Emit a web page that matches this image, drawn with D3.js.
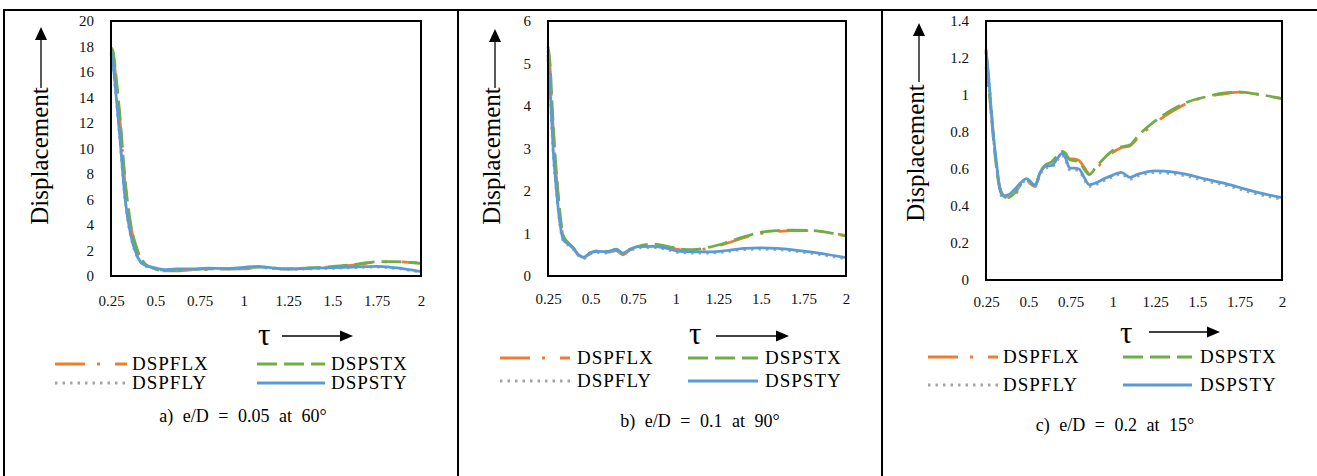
<!DOCTYPE html>
<html>
<head>
<meta charset="utf-8">
<script src="https://cdn.jsdelivr.net/npm/d3@7"></script>
<style>
  html, body { margin: 0; padding: 0; background: #fff; }
  svg { display: block; }
  svg text { font-family: "Liberation Serif", serif !important; }
</style>
</head>
<body>
<svg id="fig" width="1317" height="476" font-family="Liberation Serif"></svg>
<script>
// ---- data: displacement vs. non-dimensional time tau ----
const seriesNames = ["DSPFLX", "DSPSTX", "DSPFLY", "DSPSTY"];
const xTicks = [0.25, 0.5, 0.75, 1, 1.25, 1.5, 1.75, 2];

// a) e/D = 0.05 at 60°
const captionA = "a) e/D = 0.05 at 60°";
const yTicksA = [0, 2, 4, 6, 8, 10, 12, 14, 16, 18, 20];
const tauA = [0.25, 0.26, 0.28, 0.30, 0.33, 0.36, 0.40, 0.44, 0.48, 0.55, 0.62, 0.70, 0.80, 0.90, 1.00, 1.08, 1.15, 1.25, 1.35, 1.50, 1.65, 1.75, 1.85, 2.00];
const flxA = [17.9, 17.5, 15.2, 12.3, 7.2, 4.0, 1.9, 0.95, 0.6, 0.4, 0.4, 0.48, 0.5, 0.55, 0.55, 0.68, 0.62, 0.55, 0.6, 0.72, 0.92, 1.1, 1.12, 1.0];
const stxA = [17.9, 17.7, 15.5, 12.6, 7.5, 4.2, 2.0, 1.0, 0.65, 0.42, 0.45, 0.5, 0.55, 0.55, 0.6, 0.7, 0.65, 0.55, 0.62, 0.75, 0.95, 1.12, 1.12, 0.98];
const flyA = [17.4, 16.6, 13.8, 10.7, 5.9, 3.2, 1.45, 0.8, 0.65, 0.45, 0.5, 0.5, 0.57, 0.53, 0.63, 0.7, 0.6, 0.5, 0.55, 0.6, 0.67, 0.7, 0.6, 0.3];
const styA = [17.6, 16.8, 14.0, 10.9, 6.0, 3.3, 1.5, 0.85, 0.7, 0.5, 0.55, 0.55, 0.62, 0.58, 0.68, 0.75, 0.65, 0.55, 0.6, 0.65, 0.72, 0.75, 0.65, 0.35];

// b) e/D = 0.1 at 90°
const captionB = "b) e/D = 0.1 at 90°";
const yTicksB = [0, 1, 2, 3, 4, 5, 6];
const tauB = [0.25, 0.26, 0.28, 0.30, 0.32, 0.34, 0.37, 0.40, 0.43, 0.46, 0.50, 0.55, 0.60, 0.65, 0.69, 0.73, 0.78, 0.87, 0.95, 1.02, 1.10, 1.20, 1.30, 1.40, 1.50, 1.60, 1.70, 1.80, 1.90, 2.00];
const flxB = [5.3, 5.0, 3.5, 2.3, 1.45, 0.92, 0.76, 0.64, 0.48, 0.42, 0.53, 0.58, 0.56, 0.6, 0.5, 0.61, 0.68, 0.73, 0.68, 0.62, 0.6, 0.66, 0.77, 0.9, 1.0, 1.05, 1.07, 1.07, 1.02, 0.95];
const stxB = [5.4, 5.1, 3.6, 2.4, 1.5, 0.95, 0.78, 0.66, 0.5, 0.44, 0.55, 0.6, 0.58, 0.62, 0.52, 0.63, 0.7, 0.75, 0.7, 0.64, 0.62, 0.68, 0.79, 0.92, 1.03, 1.07, 1.08, 1.07, 1.02, 0.94];
const flyB = [5.1, 4.5, 2.9, 1.95, 1.2, 0.82, 0.72, 0.62, 0.47, 0.41, 0.52, 0.55, 0.54, 0.6, 0.51, 0.59, 0.66, 0.67, 0.62, 0.55, 0.54, 0.54, 0.57, 0.62, 0.63, 0.62, 0.58, 0.53, 0.47, 0.4];
const styB = [5.2, 4.6, 3.0, 2.0, 1.25, 0.85, 0.75, 0.65, 0.5, 0.44, 0.55, 0.58, 0.57, 0.63, 0.54, 0.62, 0.69, 0.7, 0.65, 0.58, 0.57, 0.57, 0.6, 0.65, 0.66, 0.65, 0.61, 0.56, 0.5, 0.43];

// c) e/D = 0.2 at 15°
const captionC = "c) e/D = 0.2 at 15°";
const yTicksC = [0, 0.2, 0.4, 0.6, 0.8, 1, 1.2, 1.4];
const tauC = [0.25, 0.27, 0.29, 0.31, 0.33, 0.35, 0.38, 0.42, 0.46, 0.49, 0.52, 0.54, 0.57, 0.60, 0.64, 0.67, 0.70, 0.72, 0.745, 0.77, 0.80, 0.83, 0.86, 0.90, 0.95, 1.00, 1.05, 1.10, 1.15, 1.25, 1.35, 1.45, 1.55, 1.65, 1.75, 1.85, 2.00];
const flxC = [1.24, 1.05, 0.82, 0.64, 0.51, 0.46, 0.44, 0.46, 0.51, 0.535, 0.515, 0.505, 0.58, 0.615, 0.635, 0.66, 0.685, 0.68, 0.655, 0.655, 0.645, 0.61, 0.575, 0.6, 0.65, 0.69, 0.715, 0.725, 0.77, 0.85, 0.91, 0.96, 0.99, 1.005, 1.015, 1.005, 0.98];
const stxC = [1.15, 1.0, 0.8, 0.62, 0.5, 0.46, 0.445, 0.47, 0.52, 0.54, 0.52, 0.51, 0.585, 0.62, 0.64, 0.67, 0.695, 0.685, 0.65, 0.645, 0.64, 0.6, 0.57, 0.61, 0.66, 0.7, 0.72, 0.73, 0.78, 0.86, 0.92, 0.965, 0.99, 1.01, 1.015, 1.005, 0.98];
const flyC = [1.23, 1.03, 0.8, 0.63, 0.49, 0.445, 0.45, 0.48, 0.52, 0.54, 0.515, 0.505, 0.57, 0.605, 0.61, 0.645, 0.675, 0.65, 0.595, 0.595, 0.59, 0.545, 0.505, 0.515, 0.538, 0.557, 0.572, 0.545, 0.562, 0.58, 0.575, 0.558, 0.535, 0.515, 0.49, 0.465, 0.437];
const styC = [1.25, 1.05, 0.82, 0.65, 0.5, 0.455, 0.46, 0.49, 0.53, 0.548, 0.525, 0.512, 0.58, 0.615, 0.62, 0.655, 0.685, 0.66, 0.605, 0.605, 0.6, 0.555, 0.515, 0.525, 0.548, 0.567, 0.582, 0.555, 0.572, 0.59, 0.585, 0.568, 0.545, 0.525, 0.5, 0.475, 0.445];

// ---- series styling ----
const styles = {
  DSPFLX: { color: "#ED7D31", dash: "30 12 3 15" },
  DSPSTX: { color: "#70AD47", dash: "20 7" },
  DSPFLY: { color: "#A5A5A5", dash: "2.5 5" },
  DSPSTY: { color: "#5B9BD5", dash: null }
};

// ---- panel layout ----
const panels = [
  { tau: tauA, series: [flxA, stxA, flyA, styA], yMax: 20, yTicks: yTicksA, caption: captionA,
    box: { l: 111, r: 421, t: 21, b: 276 }, xPad: 19,
    yArrow: { x: 41, tip: 27, end: 88 }, yLabel: { x: 48, y: 156 },
    tauLbl: { x: 258, y: 345 }, tauArrow: { x0: 282, x1: 353, y: 336 },
    legend: { cols: [[55, 127, 132], [257, 325, 331]], rows: [364, 383] },
    cap: { x: 243, y: 416 } },
  { tau: tauB, series: [flxB, stxB, flyB, styB], yMax: 6, yTicks: yTicksB, caption: captionB,
    box: { l: 548, r: 846, t: 21, b: 276 }, xPad: 17,
    yArrow: { x: 495, tip: 29, end: 88 }, yLabel: { x: 500, y: 156 },
    tauLbl: { x: 689, y: 344 }, tauArrow: { x0: 716, x1: 789, y: 336 },
    legend: { cols: [[500, 570, 577], [688, 758, 765]], rows: [358, 381] },
    cap: { x: 700, y: 421 } },
  { tau: tauC, series: [flxC, stxC, flyC, styC], yMax: 1.4, yTicks: yTicksC, caption: captionC,
    box: { l: 986, r: 1282, t: 21, b: 280 }, xPad: 16,
    yArrow: { x: 919, tip: 23, end: 82 }, yLabel: { x: 924, y: 153 },
    tauLbl: { x: 1120, y: 343 }, tauArrow: { x0: 1149, x1: 1220, y: 332 },
    legend: { cols: [[928, 998, 1003], [1123, 1192, 1200]], rows: [357, 385] },
    cap: { x: 1115, y: 425 } }
];

const svg = d3.select("#fig");
const FONT = "Liberation Serif";

// outer table frame
const frame = svg.append("g").attr("stroke", "#000").attr("stroke-width", 2);
frame.append("line").attr("x1", 3).attr("x2", 1317).attr("y1", 10).attr("y2", 10);
[4, 458, 882].forEach(x => frame.append("line").attr("x1", x).attr("x2", x).attr("y1", 9).attr("y2", 476));

function arrowHead(g, pts) {
  g.append("path").attr("d", "M" + pts.map(p => p.join(",")).join("L") + "Z").attr("fill", "#000");
}

panels.forEach(p => {
  const g = svg.append("g").attr("font-family", FONT);
  const x = d3.scaleLinear().domain([0.25, 2]).range([p.box.l, p.box.r]);
  const y = d3.scaleLinear().domain([0, p.yMax]).range([p.box.b, p.box.t]);

  // y axis labels
  const yAxis = g.append("g").attr("transform", `translate(${p.box.l},0)`)
    .call(d3.axisLeft(y).tickValues(p.yTicks).tickSize(0).tickPadding(17).tickFormat(d => String(d)));
  yAxis.attr("font-family", FONT).attr("font-size", 15);
  yAxis.select(".domain").remove();
  yAxis.selectAll("text").attr("font-family", FONT).attr("font-size", 15).attr("fill", "#111");

  // x axis labels
  const xAxis = g.append("g").attr("transform", `translate(0,${p.box.b})`)
    .call(d3.axisBottom(x).tickValues(xTicks).tickSize(0).tickPadding(p.xPad).tickFormat(d => String(d)));
  xAxis.attr("font-family", FONT).attr("font-size", 15);
  xAxis.select(".domain").remove();
  xAxis.selectAll("text").attr("font-family", FONT).attr("font-size", 15).attr("fill", "#111");

  // series lines
  const line = d3.line().curve(d3.curveMonotoneX);
  seriesNames.forEach((name, i) => {
    const vals = p.series[i];
    const pts = p.tau.map((t, k) => [x(t), y(vals[k])]);
    const st = styles[name];
    g.append("path").attr("d", line(pts)).attr("fill", "none")
      .attr("stroke", st.color).attr("stroke-width", 2.75)
      .attr("stroke-dasharray", st.dash).attr("stroke-linejoin", "round");
  });

  // plot area border
  g.append("rect").attr("x", p.box.l).attr("y", p.box.t)
    .attr("width", p.box.r - p.box.l).attr("height", p.box.b - p.box.t)
    .attr("fill", "none").attr("stroke", "#000").attr("stroke-width", 2);

  // y axis title with upward arrow
  g.append("line").attr("x1", p.yArrow.x).attr("x2", p.yArrow.x)
    .attr("y1", p.yArrow.tip + 10).attr("y2", p.yArrow.end).attr("stroke", "#000").attr("stroke-width", 1.3);
  arrowHead(g, [[p.yArrow.x, p.yArrow.tip], [p.yArrow.x - 6, p.yArrow.tip + 13], [p.yArrow.x + 6, p.yArrow.tip + 13]]);
  g.append("text").attr("transform", `translate(${p.yLabel.x},${p.yLabel.y}) rotate(-90)`)
    .attr("text-anchor", "middle").attr("font-family", FONT).attr("font-size", 25).text("Displacement");

  // x axis title with right arrow
  g.append("text").attr("x", p.tauLbl.x).attr("y", p.tauLbl.y)
    .attr("font-family", FONT).attr("font-size", 31).text("τ");
  g.append("line").attr("x1", p.tauArrow.x0).attr("x2", p.tauArrow.x1 - 10)
    .attr("y1", p.tauArrow.y).attr("y2", p.tauArrow.y).attr("stroke", "#000").attr("stroke-width", 1.3);
  arrowHead(g, [[p.tauArrow.x1, p.tauArrow.y], [p.tauArrow.x1 - 13, p.tauArrow.y - 5.5], [p.tauArrow.x1 - 13, p.tauArrow.y + 5.5]]);

  // legend (2 x 2)
  seriesNames.forEach((name, i) => {
    const col = p.legend.cols[i % 2];
    const ry = p.legend.rows[Math.floor(i / 2)];
    const st = styles[name];
    g.append("line").attr("x1", col[0]).attr("x2", col[1]).attr("y1", ry).attr("y2", ry)
      .attr("stroke", st.color).attr("stroke-width", 3).attr("stroke-dasharray", st.dash);
    g.append("text").attr("x", col[2]).attr("y", ry + 6)
      .attr("font-family", FONT).attr("font-size", 19).attr("letter-spacing", 1)
      .text(name);
  });

  // caption
  g.append("text").attr("x", p.cap.x).attr("y", p.cap.y + 6)
    .attr("text-anchor", "middle")
    .attr("font-family", FONT).attr("font-size", 18).attr("word-spacing", 5)
    .text(p.caption);
});
</script>
</body>
</html>
